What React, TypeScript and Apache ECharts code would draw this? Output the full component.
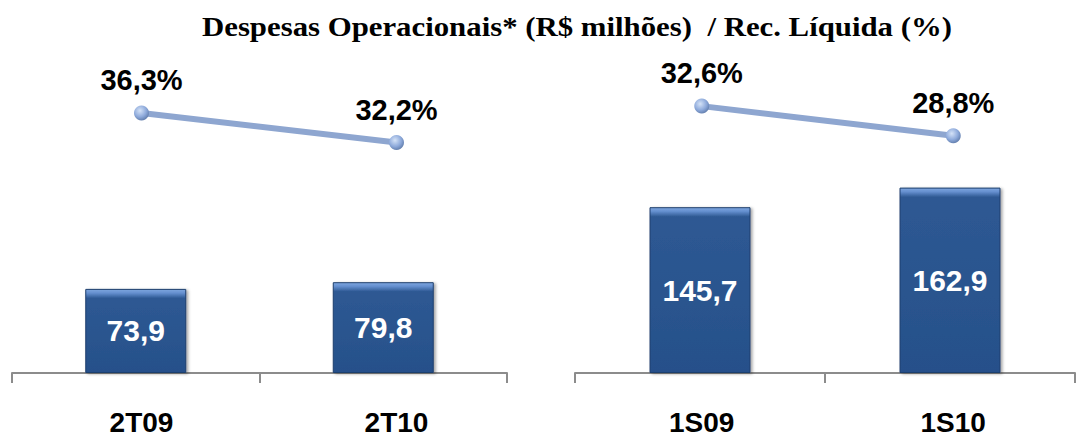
import { useEffect, useRef } from "react";
import * as echarts from "echarts";

const quarterCategories = ["2T09", "2T10"];
const semesterCategories = ["1S09", "1S10"];
const quarterExpenses = [73.9, 79.8];
const semesterExpenses = [145.7, 162.9];
const quarterRatio = [36.3, 32.2];
const semesterRatio = [32.6, 28.8];
const titleText = "Despesas Operacionais* (R$ milhões)  / Rec. Líquida (%)";

const BAR_MAX = 200;
const BAR_GRID_H = 227.6;
const fmt = (v: number) => v.toFixed(1).replace(".", ",");

function barGradient(v: number) {
  const h = (v / BAR_MAX) * BAR_GRID_H;
  const s = 9 / h;
  return new echarts.graphic.LinearGradient(0, 0, 0, 1, [
    { offset: 0, color: "#7ea6de" },
    { offset: s * 0.4, color: "#6690d0" },
    { offset: s, color: "#2e5993" },
    { offset: 1, color: "#26508a" },
  ]);
}

const markerColor = () =>
  new echarts.graphic.RadialGradient(0.4, 0.35, 0.75, [
    { offset: 0, color: "#d4e2f7" },
    { offset: 0.55, color: "#8eaadb" },
    { offset: 1, color: "#55719f" },
  ]);

export default function App() {
  const ref = useRef<HTMLDivElement>(null);
  useEffect(() => {
    const chart = echarts.init(ref.current!, null, { renderer: "svg" });
    const font = "Liberation Sans";
    const barSeries = (idx: number, vals: number[]) => ({
      type: "bar",
      xAxisIndex: idx,
      yAxisIndex: idx,
      barWidth: 101,
      data: vals.map((v) => ({
        value: v,
        itemStyle: {
          color: barGradient(v),
          borderColor: "#1e3f6e",
          borderWidth: 1,
          shadowColor: "rgba(0,0,0,0.35)",
          shadowBlur: 3,
          shadowOffsetX: 2,
          shadowOffsetY: 1,
        },
      })),
      label: {
        show: true,
        position: "inside",
        formatter: (p: any) => fmt(p.value),
        color: "#ffffff",
        fontFamily: font,
        fontWeight: "bold",
        fontSize: 30,
      },
    });
    const lineSeries = (idx: number, vals: number[]) => ({
      type: "line",
      xAxisIndex: idx,
      yAxisIndex: idx,
      data: vals,
      symbol: "circle",
      symbolSize: 15,
      lineStyle: { color: "#8ea6d0", width: 6 },
      itemStyle: { color: markerColor(), borderWidth: 0 },
      label: {
        show: true,
        position: "top",
        distance: 11,
        formatter: (p: any) => fmt(p.value) + "%",
        color: "#000000",
        fontFamily: font,
        fontWeight: "bold",
        fontSize: 29,
      },
    });
    const barX = (data: string[], gi: number) => ({
      type: "category",
      gridIndex: gi,
      data,
      axisLine: { show: true, lineStyle: { color: "#8c8c8c", width: 2 } },
      axisTick: { show: true, length: 10, lineStyle: { color: "#8c8c8c", width: 2 } },
      axisLabel: { show: false },
    });
    const lineX = (data: string[], gi: number, margin: number) => ({
      type: "category",
      gridIndex: gi,
      data,
      axisLine: { show: false },
      axisTick: { show: false },
      axisLabel: {
        show: true,
        margin,
        color: "#000000",
        fontFamily: font,
        fontWeight: "bold",
        fontSize: 28,
      },
    });
    const hiddenY = (gi: number, max: number) => ({
      type: "value",
      gridIndex: gi,
      min: 0,
      max,
      show: false,
      splitLine: { show: false },
    });
    chart.setOption({
      animation: false,
      grid: [
        { left: 12, width: 495, top: 145.4, bottom: 63 },
        { left: 575, width: 500, top: 145.4, bottom: 63 },
        { left: 14, width: 510, top: 86.2, bottom: 57 },
        { left: 576, width: 516, top: 48.4, bottom: 71.6 },
      ],
      xAxis: [
        barX(quarterCategories, 0),
        barX(semesterCategories, 1),
        lineX(quarterCategories, 2, 33),
        lineX(semesterCategories, 3, 47.6),
      ],
      yAxis: [hiddenY(0, BAR_MAX), hiddenY(1, BAR_MAX), hiddenY(2, 40), hiddenY(3, 40)],
      series: [
        barSeries(0, quarterExpenses),
        barSeries(1, semesterExpenses),
        lineSeries(2, quarterRatio),
        lineSeries(3, semesterRatio),
      ],
      graphic: [
        {
          type: "text",
          x: 577,
          y: 26,
          scaleX: 1.1,
          style: {
            text: titleText,
            align: "center",
            verticalAlign: "middle",
            fontFamily: "Liberation Serif",
            fontSize: 28,
            fontWeight: "bold",
            fill: "#000000",
          },
        },
      ],
    });
    return () => chart.dispose();
  }, []);
  return (
    <div
      ref={ref}
      style={{ position: "absolute", left: 0, top: 0, width: 1079, height: 436 }}
    />
  );
}
